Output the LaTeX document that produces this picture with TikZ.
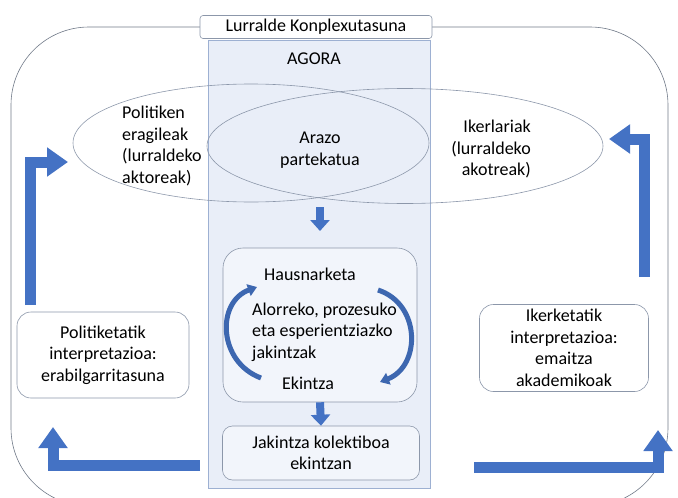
\documentclass[tikz,border=0pt]{standalone}
\usepackage{fontspec}
\setmainfont{Carlito}
\usetikzlibrary{arrows.meta,shapes.geometric}
\definecolor{arrowblue}{HTML}{4472C4}
\definecolor{agorafill}{HTML}{E9EEF8}
\definecolor{agoraline}{HTML}{9DB0D2}
\definecolor{lineg}{HTML}{8C97AA}
\begin{document}
\begin{tikzpicture}[x=1pt,y=-1pt,
    txt/.style={font=\fontsize{18}{21.5}\selectfont,align=center,inner sep=0pt},
    txtl/.style={txt,align=left},
    roundbox/.style={draw=lineg,rounded corners=14,line width=0.6pt},
    blockarrow/.style={draw=arrowblue,line width=11,-{Triangle[width=28,length=21]}},
    smallarrow/.style={draw=arrowblue,line width=8,-{Triangle[width=19,length=11]}},
    curvearrow/.style={draw=arrowblue!90!black,line width=5,-{Triangle[width=12,length=9]}}]
  \useasboundingbox (0,0) rectangle (678,498);
  % outer frame and agora
  \draw[lineg!80!black,line width=0.6pt,rounded corners=78] (11,27) rectangle (668,506);
  \filldraw[fill=agorafill,draw=agoraline,line width=0.6pt] (208,40) rectangle (430,488);
  \node[draw=lineg,fill=white,rounded corners=3,line width=0.6pt,minimum width=232,minimum height=23,txt] (lurralde) at (316,27) {Lurralde Konplexutasuna};
  \node[txt] (agora) at (314,59) {AGORA};
  % ellipses
  \node[draw=lineg,ellipse,line width=0.6pt,minimum width=356,minimum height=118] (eragile) at (251,143) {};
  \node[draw=lineg,ellipse,line width=0.6pt,minimum width=396,minimum height=115] (ikerl) at (405,146) {};
  \node[txtl,anchor=west] (politiken) at (122,146) {Politiken\\eragileak\\(lurraldeko\\aktoreak)};
  \node[txt] (arazo) at (320,150) {Arazo\\partekatua};
  \node[txt,align=right,anchor=east] (ikertxt) at (531,149) {Ikerlariak\\(lurraldeko\\akotreak)};
  % agora inner part
  \node[roundbox,fill=agorafill!60!white,minimum width=194,minimum height=154,rounded corners=20] (hausbox) at (320,325) {};
  \node[txt] (haus) at (310,274) {Hausnarketa};
  \node[txtl,anchor=west] (alorreko) at (252,332) {Alorreko, prozesuko\\eta esperientziazko\\jakintzak};
  \node[txt] (ekintza) at (308,383) {Ekintza};
  \node[roundbox,fill=agorafill!60!white,minimum width=197,minimum height=54,rounded corners=10,txt] (jakintza) at (321,453) {Jakintza kolektiboa\\ekintzan};
  % side boxes
  \node[roundbox,fill=white,minimum width=172,minimum height=86,txt] (politik) at (103,355) {Politiketatik\\interpretazioa:\\erabilgarritasuna};
  \node[roundbox,fill=white,minimum width=169,minimum height=87,txt] (ikerket) at (564,348) {Ikerketatik\\interpretazioa:\\emaitza\\akademikoak};
  % connectors
  \coordinate (c1) at (30,305);
  \coordinate (c2) at (68,162);
  \coordinate (c3) at (644,277);
  \coordinate (c4) at (609,139);
  \coordinate (c5) at (200,465);
  \coordinate (c6) at (53,427);
  \coordinate (c7) at (474,467);
  \coordinate (c8) at (658,430);
  \draw[blockarrow] (c1) |- (c2);
  \draw[blockarrow] (c3) |- (c4);
  \draw[blockarrow] (c5) -| (c6);
  \draw[blockarrow] (c7) -| (c8);
  \draw[smallarrow] (320,207) -- (320,231);
  \draw[smallarrow] (hausbox.south) -- (jakintza.north);
  \draw[curvearrow] (261,378) .. controls (218,362) and (216,302) .. (257,287);
  \draw[curvearrow] (378,290) .. controls (421,304) and (421,366) .. (380,382);
\end{tikzpicture}
\end{document}
